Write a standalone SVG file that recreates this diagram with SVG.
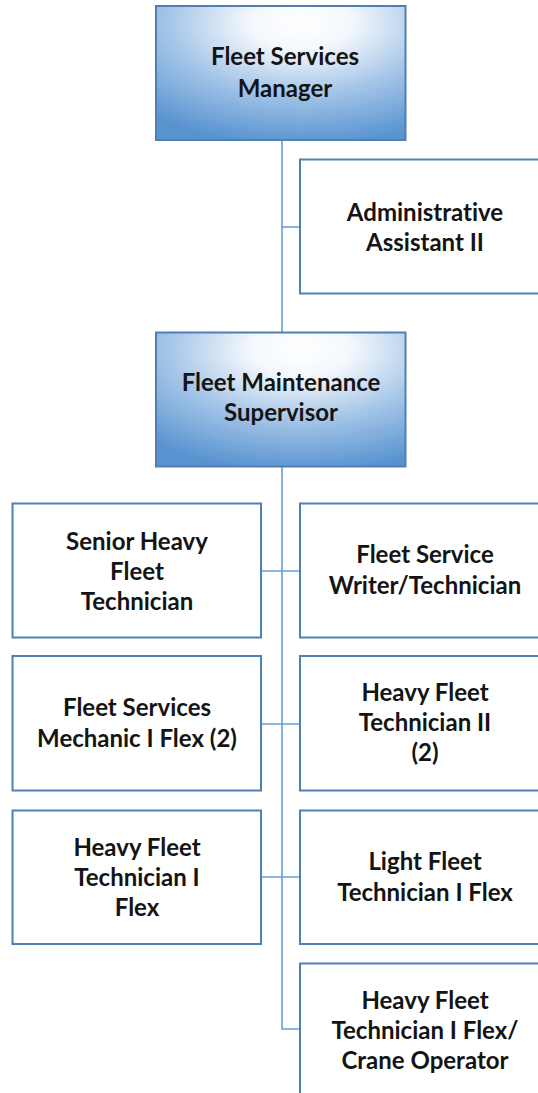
<svg xmlns="http://www.w3.org/2000/svg" width="538" height="1093" viewBox="0 0 538 1093">
  <defs>
    <radialGradient id="managerFill" cx="0.58" cy="0.12" r="0.92" fx="0.58" fy="0.12">
      <stop offset="0" stop-color="#ffffff"/>
      <stop offset="0.22" stop-color="#f4f8fc"/>
      <stop offset="0.58" stop-color="#a4c5e8"/>
      <stop offset="1" stop-color="#5893d0"/>
    </radialGradient>
    <style>
      .box { fill: #ffffff; stroke: #4f7fb3; stroke-width: 2; }
      .lead { fill: url(#managerFill); stroke: #4f7fb3; stroke-width: 2; }
      .link { fill: none; stroke: #6a9fd8; stroke-width: 1.6; }
      text { font-family: Lato, "Liberation Sans", sans-serif; font-weight: 700; font-size: 24px; fill: #141414; text-anchor: middle; font-variant-ligatures: none; }
    </style>
  </defs>

  <rect width="538" height="1093" fill="#ffffff"/>

  <!-- reporting lines -->
  <g id="connectors">
    <line class="link" x1="282" y1="140" x2="282" y2="332"/>
    <line class="link" x1="282" y1="227" x2="300" y2="227"/>
    <polyline class="link" points="282,467 282,1029 300,1029"/>
    <line class="link" x1="261" y1="571" x2="300" y2="571"/>
    <line class="link" x1="261" y1="724" x2="300" y2="724"/>
    <line class="link" x1="261" y1="877" x2="300" y2="877"/>
  </g>

  <g id="fleet-services-manager">
    <rect class="lead" x="156" y="6" width="249.5" height="134"/>
    <text x="285" y="65">Fleet Services</text>
    <text x="285" y="96.5">Manager</text>
  </g>

  <g id="administrative-assistant">
    <rect class="box" x="300" y="159.5" width="250" height="134"/>
    <text x="425" y="220.5">Administrative</text>
    <text x="425" y="251">Assistant II</text>
  </g>

  <g id="fleet-maintenance-supervisor">
    <rect class="lead" x="156" y="332.5" width="249.5" height="134"/>
    <text x="281" y="391">Fleet Maintenance</text>
    <text x="281" y="421">Supervisor</text>
  </g>

  <g id="senior-heavy-fleet-technician">
    <rect class="box" x="12.5" y="503.5" width="248.5" height="134"/>
    <text x="137" y="549.5">Senior Heavy</text>
    <text x="137" y="579.5">Fleet</text>
    <text x="137" y="609.5">Technician</text>
  </g>

  <g id="fleet-service-writer">
    <rect class="box" x="300" y="503.5" width="250" height="134"/>
    <text x="425" y="563">Fleet Service</text>
    <text x="425" y="593.5">Writer/Technician</text>
  </g>

  <g id="fleet-services-mechanic">
    <rect class="box" x="12.5" y="656" width="248.5" height="134.5"/>
    <text x="137" y="716">Fleet Services</text>
    <text x="137" y="746.5">Mechanic I Flex (2)</text>
  </g>

  <g id="heavy-fleet-technician-ii">
    <rect class="box" x="300" y="656" width="250" height="134.5"/>
    <text x="425" y="701">Heavy Fleet</text>
    <text x="425" y="731">Technician II</text>
    <text x="425" y="761">(2)</text>
  </g>

  <g id="heavy-fleet-technician-i-flex">
    <rect class="box" x="12.5" y="810.5" width="248.5" height="133.5"/>
    <text x="137" y="856">Heavy Fleet</text>
    <text x="137" y="886">Technician I</text>
    <text x="137" y="916">Flex</text>
  </g>

  <g id="light-fleet-technician">
    <rect class="box" x="300" y="810.5" width="250" height="133.5"/>
    <text x="425" y="870">Light Fleet</text>
    <text x="425" y="900.5">Technician I Flex</text>
  </g>

  <g id="crane-operator">
    <rect class="box" x="300" y="963.5" width="250" height="134"/>
    <text x="425" y="1009">Heavy Fleet</text>
    <text x="425" y="1039">Technician I Flex/</text>
    <text x="425" y="1069">Crane Operator</text>
  </g>
</svg>
